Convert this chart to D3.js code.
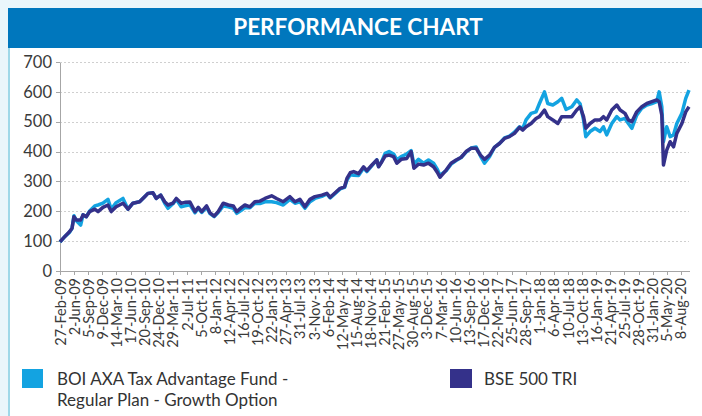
<!DOCTYPE html>
<html lang="en">
  <head>
    <meta charset="UTF-8" />
    <title>Performance Chart</title>
    <style>
      body {
        margin: 0;
        background: #eaf6fb;
      }
      .axis path,
      .axis line {
        fill: none;
        stroke: #a6a6a6;
        shape-rendering: crispEdges;
      }
      .axis text {
        fill: #3a3a3a;
        font-family: Lato, "Open Sans", sans-serif;
      }
      .grid line {
        stroke: #cfcfcf;
        stroke-dasharray: 2, 2;
        shape-rendering: crispEdges;
      }
    </style>
  </head>
  <body>
    <div class="chart"></div>

    <script src="https://d3js.org/d3.v7.min.js"></script>
    <script>
      // data (dates + the two series)
      const dates = [
        "2009-02-27", "2009-03-31", "2009-05-03", "2009-05-19", "2009-06-01", "2009-06-17",
        "2009-07-16", "2009-08-01", "2009-08-23", "2009-09-15", "2009-10-19", "2009-11-10",
        "2009-12-13", "2010-01-16", "2010-02-07", "2010-03-12", "2010-04-27", "2010-05-31",
        "2010-07-03", "2010-08-17", "2010-09-20", "2010-10-12", "2010-11-15", "2010-12-07",
        "2011-01-06", "2011-02-02", "2011-02-24", "2011-03-29", "2011-04-21", "2011-05-24",
        "2011-06-18", "2011-07-22", "2011-08-25", "2011-09-16", "2011-10-09", "2011-11-11",
        "2011-12-04", "2012-01-01", "2012-01-28", "2012-03-02", "2012-04-05", "2012-05-09",
        "2012-06-01", "2012-07-04", "2012-07-26", "2012-08-29", "2012-10-01", "2012-11-04",
        "2012-12-08", "2013-01-22", "2013-02-24", "2013-04-10", "2013-05-25", "2013-06-28",
        "2013-07-31", "2013-09-03", "2013-10-07", "2013-11-09", "2013-12-26", "2014-01-29",
        "2014-02-20", "2014-03-26", "2014-04-28", "2014-05-28", "2014-06-13", "2014-07-05",
        "2014-07-28", "2014-08-30", "2014-10-03", "2014-10-25", "2014-11-28", "2014-12-31",
        "2015-01-12", "2015-02-03", "2015-02-25", "2015-03-24", "2015-04-23", "2015-05-15",
        "2015-06-13", "2015-07-21", "2015-08-19", "2015-09-07", "2015-10-08", "2015-11-11",
        "2015-12-14", "2016-01-17", "2016-02-12", "2016-02-29", "2016-04-11", "2016-05-14",
        "2016-06-17", "2016-07-21", "2016-08-23", "2016-09-26", "2016-10-30", "2016-11-28",
        "2016-12-25", "2017-01-28", "2017-03-02", "2017-04-05", "2017-05-09", "2017-06-11",
        "2017-07-15", "2017-08-18", "2017-09-09", "2017-10-01", "2017-11-04", "2017-12-07",
        "2017-12-30", "2018-02-02", "2018-02-24", "2018-03-30", "2018-05-03", "2018-05-29",
        "2018-06-27", "2018-08-05", "2018-09-07", "2018-09-30", "2018-10-23", "2018-11-07",
        "2018-12-06", "2019-01-08", "2019-02-11", "2019-03-06", "2019-03-28", "2019-05-01",
        "2019-06-04", "2019-06-26", "2019-07-29", "2019-08-21", "2019-09-13", "2019-10-16",
        "2019-11-19", "2019-12-23", "2020-01-26", "2020-02-28", "2020-03-15", "2020-04-02",
        "2020-04-13", "2020-05-05", "2020-05-28", "2020-06-20", "2020-07-12", "2020-08-15",
        "2020-09-10", "2020-10-02",
      ];

      const fundValues = [
        97, 115, 130, 143, 185, 168, 154, 188, 182, 201, 218, 221,
        227, 240, 207, 229, 243, 207, 227, 232, 249, 260, 262, 243,
        254, 227, 210, 225, 240, 215, 218, 222, 195, 210, 196, 214,
        192, 182, 196, 218, 215, 210, 193, 204, 213, 212, 227, 226,
        232, 232, 229, 221, 240, 227, 232, 210, 232, 243, 250, 258,
        245, 260, 275, 280, 305, 322, 321, 320, 345, 333, 353, 372,
        350, 368, 394, 400, 392, 372, 383, 392, 403, 358, 374, 361,
        372, 361, 340, 320, 336, 358, 370, 380, 398, 412, 415, 385,
        361, 383, 414, 427, 446, 452, 465, 483, 478, 506, 528, 533,
        561, 600, 561, 556, 567, 578, 541, 550, 573, 560, 506, 450,
        467, 478, 467, 483, 456, 494, 517, 506, 511, 494, 478, 522,
        545, 556, 561, 567, 600, 550, 433, 483, 450, 456, 494, 528,
        578, 606,
      ];

      const indexValues = [
        98, 115, 132, 143, 182, 171, 171, 188, 182, 199, 207, 199,
        213, 221, 199, 215, 227, 207, 227, 232, 249, 260, 262, 243,
        254, 232, 221, 227, 243, 227, 230, 231, 199, 213, 199, 218,
        195, 184, 199, 227, 221, 218, 199, 213, 221, 215, 232, 234,
        243, 252, 243, 232, 249, 232, 240, 215, 240, 249, 254, 260,
        247, 262, 277, 282, 310, 329, 333, 326, 349, 336, 355, 372,
        349, 366, 385, 388, 383, 361, 374, 377, 400, 344, 358, 355,
        361, 349, 330, 314, 338, 361, 372, 381, 400, 411, 411, 388,
        374, 388, 414, 427, 444, 450, 461, 481, 472, 483, 494, 511,
        517, 539, 517, 506, 494, 517, 517, 517, 539, 550, 517, 478,
        494, 506, 506, 517, 506, 539, 556, 539, 528, 506, 500, 533,
        550, 561, 567, 573, 567, 522, 355, 405, 433, 416, 461, 494,
        533, 550,
      ];

      const xTickLabels = [
        "27-Feb-09", "2-Jun-09", "5-Sep-09", "9-Dec-09", "14-Mar-10", "17-Jun-10",
        "20-Sep-10", "24-Dec-10", "29-Mar-11", "2-Jul-11", "5-Oct-11", "8-Jan-12",
        "12-Apr-12", "16-Jul-12", "19-Oct-12", "22-Jan-13", "27-Apr-13", "31-Jul-13",
        "3-Nov-13", "6-Feb-14", "12-May-14", "15-Aug-14", "18-Nov-14", "21-Feb-15",
        "27-May-15", "30-Aug-15", "3-Dec-15", "7-Mar-16", "10-Jun-16", "13-Sep-16",
        "17-Dec-16", "22-Mar-17", "25-Jun-17", "28-Sep-17", "1-Jan-18", "6-Apr-18",
        "10-Jul-18", "13-Oct-18", "16-Jan-19", "21-Apr-19", "25-Jul-19", "28-Oct-19",
        "31-Jan-20", "5-May-20", "8-Aug-20",
      ];

      const yTicks = [0, 100, 200, 300, 400, 500, 600, 700];

      const seriesNames = [
        "BOI AXA Tax Advantage Fund - Regular Plan - Growth Option",
        "BSE 500 TRI",
      ];
      const seriesColors = ["#13a3e1", "#34318a"];

      const drawChart = () => {
        const w = 702;
        const h = 416;
        const margin = { top: 62, right: 13, bottom: 145, left: 60 };

        const parseIso = d3.timeParse("%Y-%m-%d");
        const parseLabel = d3.timeParse("%d-%b-%y");

        const svg = d3
          .select(".chart")
          .append("svg")
          .attr("width", w)
          .attr("height", h)
          .style("display", "block");

        // 背景 + 白色面板
        svg.append("rect").attr("width", w).attr("height", h).attr("fill", "#eaf6fb");
        svg.append("rect").attr("x", 8).attr("y", 8).attr("width", w - 8).attr("height", h - 8).attr("fill", "#fff");
        svg
          .append("line")
          .attr("x1", 9).attr("x2", 9)
          .attr("y1", 48).attr("y2", h)
          .attr("stroke", "#9fd8e8")
          .attr("stroke-width", 2);

        // 標題
        svg.append("rect").attr("x", 8).attr("y", 8).attr("width", w - 8).attr("height", 40).attr("fill", "#0077bd");
        svg
          .append("text")
          .attr("x", 358)
          .attr("y", 35)
          .attr("text-anchor", "middle")
          .attr("fill", "#fff")
          .style("font-family", "Lato, 'Open Sans', sans-serif")
          .style("font-weight", 700)
          .style("font-size", "22.5px")
          .text("PERFORMANCE CHART");

        const xScale = d3
          .scaleTime()
          .domain([parseIso(dates[0]), parseIso(dates[dates.length - 1])])
          .range([margin.left, w - margin.right]);

        const yScale = d3
          .scaleLinear()
          .domain([0, 700])
          .range([h - margin.bottom, margin.top]);

        // 格線
        svg
          .append("g")
          .attr("class", "grid")
          .selectAll("line")
          .data(yTicks.slice(1))
          .enter()
          .append("line")
          .attr("x1", margin.left)
          .attr("x2", w - margin.right)
          .attr("y1", (d) => Math.round(yScale(d)) + 0.5)
          .attr("y2", (d) => Math.round(yScale(d)) + 0.5);

        // Y 軸
        const yAxis = d3.axisLeft(yScale).tickValues(yTicks).tickSize(4).tickSizeOuter(0);
        const yAxisLine = svg
          .append("g")
          .attr("class", "axis")
          .attr("transform", `translate(${margin.left}, 0)`)
          .call(yAxis);
        yAxisLine.selectAll("text").style("font-size", "16.5px").attr("x", -8);

        // X 軸
        const xAxis = d3
          .axisBottom(xScale)
          .tickValues(xTickLabels.map(parseLabel))
          .tickFormat((d, i) => xTickLabels[i])
          .tickSize(4)
          .tickSizeOuter(0);
        const xAxisLine = svg
          .append("g")
          .attr("class", "axis")
          .attr("transform", `translate(0, ${h - margin.bottom})`)
          .call(xAxis);
        xAxisLine
          .selectAll("text")
          .style("font-size", "14.5px")
          .attr("transform", "rotate(-90)")
          .attr("text-anchor", "end")
          .attr("x", -7)
          .attr("y", 0)
          .attr("dy", "0.35em");

        // 線
        const line = (values) =>
          d3
            .line()
            .x((d, i) => xScale(parseIso(dates[i])))
            .y((d) => yScale(d))(values);

        [fundValues, indexValues].forEach((values, k) => {
          svg
            .append("path")
            .attr("d", line(values))
            .attr("fill", "none")
            .attr("stroke", seriesColors[k])
            .attr("stroke-width", 3.5)
            .attr("stroke-linejoin", "round");
        });

        // 圖例
        const legend = svg
          .append("g")
          .style("font-family", "Lato, 'Open Sans', sans-serif")
          .style("font-size", "17px")
          .attr("fill", "#333");

        legend.append("rect").attr("x", 22).attr("y", 369).attr("width", 21).attr("height", 19).attr("fill", seriesColors[0]);
        legend.append("text").attr("x", 57).attr("y", 385).text("BOI AXA Tax Advantage Fund -");
        legend.append("text").attr("x", 57).attr("y", 406).text("Regular Plan - Growth Option");

        legend.append("rect").attr("x", 450).attr("y", 369).attr("width", 22).attr("height", 19).attr("fill", seriesColors[1]);
        legend.append("text").attr("x", 484).attr("y", 385).text(seriesNames[1]);
      };

      drawChart();
    </script>
  </body>
</html>
